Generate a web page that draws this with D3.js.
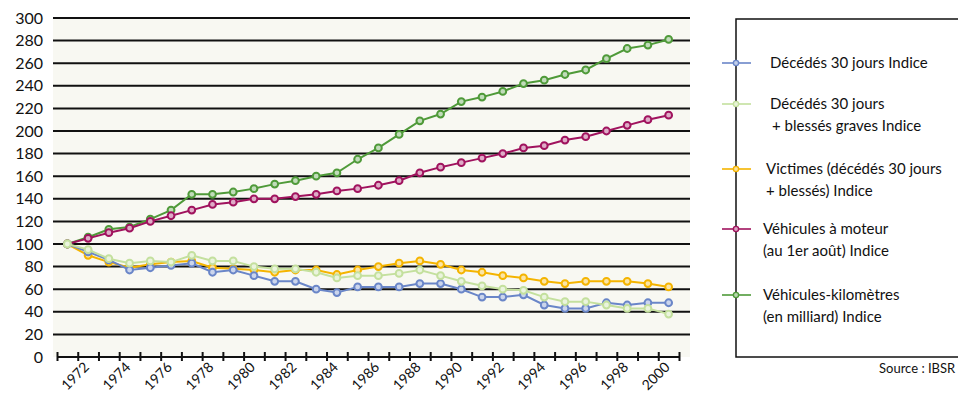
<!DOCTYPE html>
<html>
<head>
<meta charset="utf-8">
<script src="https://cdn.jsdelivr.net/npm/d3@7"></script>
<style>
  html, body { margin: 0; padding: 0; background: #fff; }
  svg { display: block; font-family: Lato, "Open Sans", sans-serif; }
</style>
</head>
<body>
<svg id="chart" width="958" height="395"></svg>
<script>
// Indices base 100 = 1971
const years = d3.range(1971, 2001);
const yTicks = d3.range(0, 301, 20);

const decedes = [100, 93, 86, 77, 79, 81, 83, 75, 77, 72, 67, 67, 60, 57, 62,
                 62, 62, 65, 65, 60, 53, 53, 55, 46, 43, 43, 48, 46, 48, 48];
const decedesBlesses = [100, 95, 87, 83, 85, 84, 90, 85, 85, 80, 78, 78, 75, 70, 72,
                        72, 74, 77, 72, 67, 63, 60, 59, 53, 49, 49, 46, 43, 43, 38];
const victimes = [100, 90, 84, 79, 82, 84, 85, 79, 78, 77, 75, 77, 77, 73, 77,
                  80, 83, 85, 82, 77, 75, 72, 70, 67, 65, 67, 67, 67, 65, 62];
const vehicules = [100, 105, 110, 114, 120, 125, 130, 135, 137, 140, 140, 142, 144, 147, 149,
                   152, 156, 163, 168, 172, 176, 180, 185, 187, 192, 195, 200, 205, 210, 214];
const vehKm = [100, 106, 113, 115, 122, 130, 144, 144, 146, 149, 153, 156, 160, 163, 175,
               185, 197, 209, 215, 226, 230, 235, 242, 245, 250, 254, 264, 273, 276, 281];

const seriesNames = [
  ["Décédés 30 jours Indice"],
  ["Décédés 30 jours", "+ blessés graves Indice"],
  ["Victimes (décédés 30 jours", "+ blessés) Indice"],
  ["Véhicules à moteur", "(au 1er août) Indice"],
  ["Véhicules-kilomètres", "(en milliard) Indice"]
];
const seriesValues = [decedes, decedesBlesses, victimes, vehicules, vehKm];
const seriesColors = ["#6a86c8", "#c4e09e", "#f4b400", "#a0135e", "#4f9a39"];
const drawOrder = [4, 3, 2, 0, 1];

const svg = d3.select("#chart");

const plotLeft = 53, plotRight = 690, plotTop = 18, plotBottom = 357;
const axisLeft = 57, axisRight = 679;

const x = d3.scaleLinear().domain([1970.5, 2000.5]).range([axisLeft, axisRight]);
const y = d3.scaleLinear().domain([0, 300]).range([plotBottom, plotTop]);

// plot background
svg.append("rect")
  .attr("x", plotLeft).attr("y", plotTop)
  .attr("width", plotRight - plotLeft).attr("height", plotBottom - plotTop)
  .attr("fill", "#f8f8f2");

// horizontal gridlines
svg.append("g")
  .selectAll("line")
  .data(yTicks.filter(v => v > 0))
  .join("line")
  .attr("x1", plotLeft).attr("x2", plotRight)
  .attr("y1", d => y(d)).attr("y2", d => y(d))
  .attr("stroke", "#111").attr("stroke-width", 2);

// y axis labels
const yAxis = svg.append("g")
  .attr("transform", `translate(${plotLeft - 4},0)`)
  .call(d3.axisLeft(y).tickValues(yTicks).tickSize(0).tickPadding(6));
yAxis.select(".domain").remove();
yAxis.selectAll("text")
  .attr("font-size", 16).attr("fill", "#111").attr("font-family", "Lato, sans-serif");

// x axis: ticks at year boundaries, crossing the baseline
const boundaries = d3.range(1970.5, 2001, 1);
const xAxis = svg.append("g")
  .attr("transform", `translate(0,${plotBottom})`)
  .call(d3.axisBottom(x).tickValues(boundaries).tickSizeOuter(0).tickSize(4).tickFormat(""));
xAxis.select(".domain").attr("stroke", "#111").attr("stroke-width", 2)
  .attr("d", `M${axisLeft},0H${axisRight + 1}`);
xAxis.selectAll(".tick line").attr("y1", -5).attr("y2", 4)
  .attr("stroke", "#111").attr("stroke-width", 2);

// year labels (even years), rotated
const labelYears = years.filter(v => v % 2 === 0);
svg.append("g")
  .selectAll("text")
  .data(labelYears)
  .join("text")
  .attr("transform", d => `translate(${x(d) + 2},${plotBottom + 11}) rotate(-45)`)
  .attr("text-anchor", "end")
  .attr("font-size", 14)
  .attr("fill", "#111")
  .text(d => d);

// series lines and markers
const line = d3.line().x((d, i) => x(years[i])).y(d => y(d));
const white = "#ffffff";

drawOrder.forEach(k => {
  const g = svg.append("g");
  const col = seriesColors[k];
  g.append("path")
    .datum(seriesValues[k])
    .attr("d", line)
    .attr("fill", "none")
    .attr("stroke", col)
    .attr("stroke-width", 2);
  g.selectAll("circle")
    .data(seriesValues[k])
    .join("circle")
    .attr("cx", (d, i) => x(years[i]))
    .attr("cy", d => y(d))
    .attr("r", 3.4)
    .attr("fill", d3.interpolateRgb(col, white)(0.65))
    .attr("stroke", col)
    .attr("stroke-width", 2);
});

// legend
const legX = 736;
svg.append("rect")
  .attr("x", legX).attr("y", 19)
  .attr("width", 260).attr("height", 338)
  .attr("fill", "#fff").attr("stroke", "#111").attr("stroke-width", 1.5);

const legendRows = [63, 104, 169, 229, 295];
const legendTextX = [770, 770, 766, 763, 763];
const legend = svg.append("g");
seriesNames.forEach((lines, k) => {
  const yy = legendRows[k];
  const col = seriesColors[k];
  legend.append("line")
    .attr("x1", legX - 14).attr("x2", legX + 15)
    .attr("y1", yy).attr("y2", yy)
    .attr("stroke", col).attr("stroke-width", 1.6);
  legend.append("circle")
    .attr("cx", legX).attr("cy", yy).attr("r", 2.6)
    .attr("fill", d3.interpolateRgb(col, white)(0.6))
    .attr("stroke", col).attr("stroke-width", 1.4);
  const t = legend.append("text")
    .attr("x", legendTextX[k]).attr("y", yy + 5)
    .attr("font-size", 15).attr("fill", "#111");
  lines.forEach((s, j) => {
    t.append("tspan")
      .attr("x", legendTextX[k] + (j > 0 && k === 1 ? 2 : 0))
      .attr("dy", j === 0 ? 0 : 22)
      .text(s);
  });
});

svg.append("text")
  .attr("x", 879).attr("y", 373)
  .attr("font-size", 13).attr("fill", "#111")
  .text("Source : IBSR");
</script>
</body>
</html>
